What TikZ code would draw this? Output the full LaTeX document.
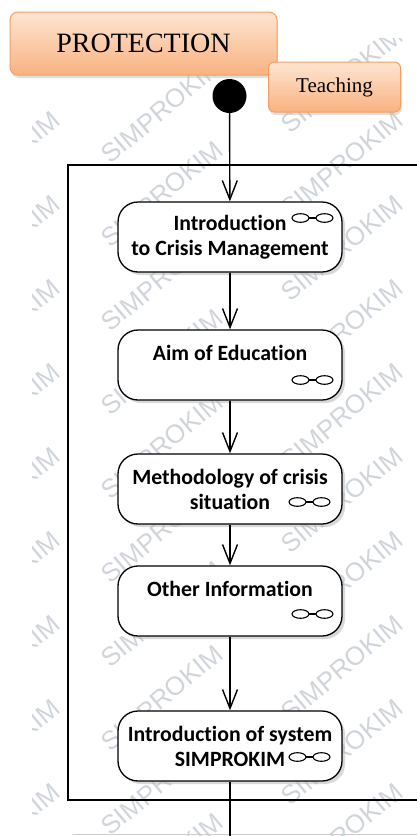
\documentclass[tikz,border=0pt]{standalone}
\usepackage{fontspec}
\setmainfont{Liberation Serif}
\newfontfamily\calib[Ligatures=NoCommon]{Carlito}
\newfontfamily\wmfont{Liberation Sans}
\usetikzlibrary{arrows.meta,shadows}
\definecolor{peachtop}{RGB}{253,229,210}
\definecolor{peachbot}{RGB}{249,178,128}
\definecolor{peachline}{RGB}{243,160,102}
\definecolor{wmgray}{RGB}{208,212,219}
% sub-activity mark: right end at (#1,#2)
\newcommand{\subicon}[2]{%
	\draw[line width=1.1pt] (#1-32.5,#2) ellipse (8.5 and 4.3);
	\draw[line width=1.1pt] (#1-8.5,#2) ellipse (8.5 and 4.3);
	\draw[line width=1.1pt] (#1-24,#2) -- (#1-17,#2);}

\begin{document}
\begin{tikzpicture}[x=1pt, y=-1pt, >={Straight Barb[length=19pt,width=15pt]},
	wmark/.style={text=wmgray, font=\wmfont\fontsize{26}{26}\selectfont, rotate=40, anchor=north east, inner sep=0pt},
	orangebox/.style={draw=peachline, line width=1pt, top color=peachtop, bottom color=peachbot, drop shadow={shadow xshift=1pt, shadow yshift=-3pt, fill=black!25}},
	actbox/.style={draw, line width=1.3pt, rounded corners=20pt, fill=white, minimum width=224pt, minimum height=70pt, align=center, font=\calib\bfseries\fontsize{21.8}{25}\selectfont, drop shadow={shadow xshift=3pt, shadow yshift=-3pt, fill=black!30}},
	flow/.style={->, line width=1.4pt}]
	\useasboundingbox (0,0) rectangle (417,836);
	% watermark
	\begin{scope}
		\clip (32,38) rectangle (417,836);
		\foreach \wy in {25,109,...,865} {
			\node[wmark] at (50,\wy) {SIMPROKIM};
			\node[wmark] at (213,\wy+30) {SIMPROKIM};
			\node[wmark] at (393,\wy) {SIMPROKIM};
		}
	\end{scope}
	\draw[line width=1.8pt] (420,165) -- (68,165) -- (68,800) -- (420,800);
	\draw[black!20, line width=1pt] (73,834) -- (417,834);
	\node[orangebox, rounded corners=8pt, minimum width=267pt, minimum height=63pt, font=\fontsize{28}{30}\selectfont] (prot) at (143.5,43.5) {PROTECTION};
	\node[orangebox, rounded corners=6pt, minimum width=132pt, minimum height=50pt, font=\fontsize{21}{24}\selectfont] (teach) at (334.5,87) {Teaching};
	\node[circle, fill=black, minimum size=34pt, inner sep=0pt] (start) at (229.5,96) {};
	\node[actbox] (intro) at (230,237) {Introduction\\to Crisis Management};
	\node[actbox] (aim) at (230,365) {Aim of Education\\[-8pt]\strut};
	\node[actbox] (method) at (230,489) {Methodology of crisis\\situation};
	\node[actbox] (other) at (230,601) {Other Information\\[-8pt]\strut};
	\node[actbox] (system) at (230,746) {Introduction of system\\SIMPROKIM};
	\coordinate (out) at (230,836);
	\subicon{333}{218}
	\subicon{333}{380}
	\subicon{330}{502}
	\subicon{333}{614}
	\subicon{330}{757}
	\draw[flow] (start) -- (intro);
	\draw[flow] (intro) -- (aim);
	\draw[flow] (aim) -- (method);
	\draw[flow] (method) -- (other);
	\draw[flow] (other) -- (system);
	\draw[line width=1.4pt] (system) -- (out);
\end{tikzpicture}
\end{document}
